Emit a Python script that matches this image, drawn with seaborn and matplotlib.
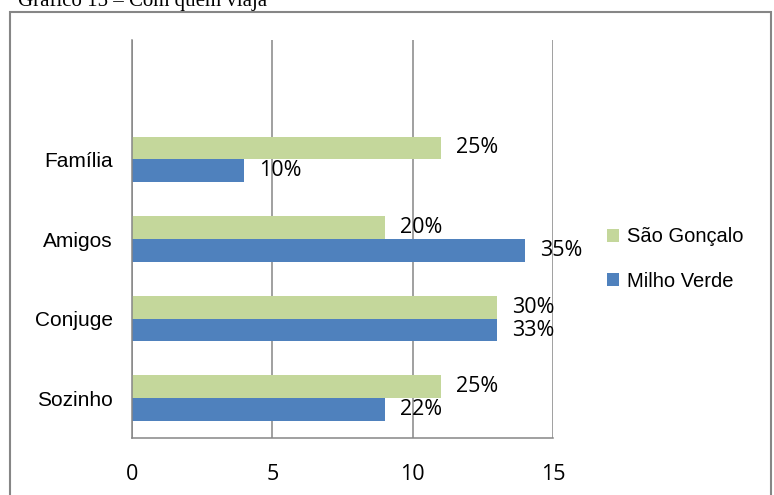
import numpy as np
import pandas as pd
import matplotlib
matplotlib.use("Agg")
import matplotlib.pyplot as plt
from matplotlib.patches import Patch, Rectangle
import seaborn as sns

# Dados
categorias = ["Família", "Amigos", "Conjuge", "Sozinho"]
locais = ["São Gonçalo", "Milho Verde"]
sao_goncalo = [11, 9, 13, 11]
milho_verde = [4, 14, 13, 9]
rotulos_sg = ["25%", "20%", "30%", "25%"]
rotulos_mv = ["10%", "35%", "33%", "22%"]
x_ticks = [0, 5, 10, 15]

cores = {"São Gonçalo": "#C4D79B", "Milho Verde": "#4F81BD"}
cinza = "#868686"

df = pd.DataFrame({
    "categoria": categorias * 2,
    "local": ["São Gonçalo"] * 4 + ["Milho Verde"] * 4,
    "valor": sao_goncalo + milho_verde,
})

sns.set_style("white")
plt.rcParams["font.family"] = ["Liberation Sans", "DejaVu Sans"]
plt.rcParams["text.color"] = "black"
plt.rcParams["xtick.color"] = "black"
plt.rcParams["ytick.color"] = "black"

fig = plt.figure(figsize=(7.74, 4.95), dpi=100)
ax = fig.add_axes([132 / 774, 1 - 438 / 495, (553 - 132) / 774, (438 - 40) / 495])

sns.barplot(data=df, y="categoria", x="valor", hue="local", order=categorias,
            hue_order=locais, palette=cores, orient="h", width=0.575,
            saturation=1, legend=False, ax=ax, errorbar=None, linewidth=0)

# rótulos de dados
for cont, rot in zip(ax.containers, [rotulos_sg, rotulos_mv]):
    ax.bar_label(cont, labels=rot, padding=11, fontsize=15.5,
                 family=["Open Sans", "DejaVu Sans"], color="black")

ax.set_xlim(0, 15)
ax.set_ylim(len(categorias) - 0.5, -1.5)
ax.set_xticks(x_ticks)
ax.set_xticklabels([str(t) for t in x_ticks], family=["Open Sans", "DejaVu Sans"],
                   fontsize=15.5, color="black")

# ticks do eixo y nos limites das categorias, rótulos no centro
ax.set_yticks(np.arange(-1.5, len(categorias), 1.0))
ax.set_yticklabels([])
ax.set_yticks(range(len(categorias)), minor=True)
ax.set_yticklabels(categorias, minor=True, fontsize=15, color="black")
ax.tick_params(axis="y", which="major", length=7, width=1.1, color=cinza, direction="out")
ax.tick_params(axis="y", which="minor", length=0, pad=14)
ax.tick_params(axis="x", length=7, width=1.1, color=cinza, direction="out", pad=12)

ax.set_xlabel("")
ax.set_ylabel("")
for s in ["top", "right"]:
    ax.spines[s].set_visible(False)
for s in ["left", "bottom"]:
    ax.spines[s].set_color(cinza)
    ax.spines[s].set_linewidth(1.1)

ax.xaxis.grid(True, color=cinza, linewidth=1.1)
ax.yaxis.grid(False)
ax.set_axisbelow(True)

# legenda
handles = [Patch(facecolor=cores[l], edgecolor="none") for l in locais]
fig.legend(handles, locais, loc="center left", bbox_to_anchor=(589 / 774, 1 - 259 / 495),
           frameon=False, fontsize=14.5, handlelength=0.6, handleheight=0.6,
           handletextpad=0.4, labelspacing=1.25)

# moldura e título cortado
fig.patches.append(Rectangle((10 / 774, -0.05), (771 - 10) / 774, (495 - 12) / 495 + 0.05,
                             transform=fig.transFigure, fill=False, edgecolor=cinza,
                             linewidth=1.5))
fig.text(18 / 774, 1 - 6 / 495, "Gráfico 15 – Com quem viaja", va="baseline", ha="left",
         fontsize=15, family=["Liberation Serif", "DejaVu Serif"])

fig.savefig("out.png", dpi=100)
